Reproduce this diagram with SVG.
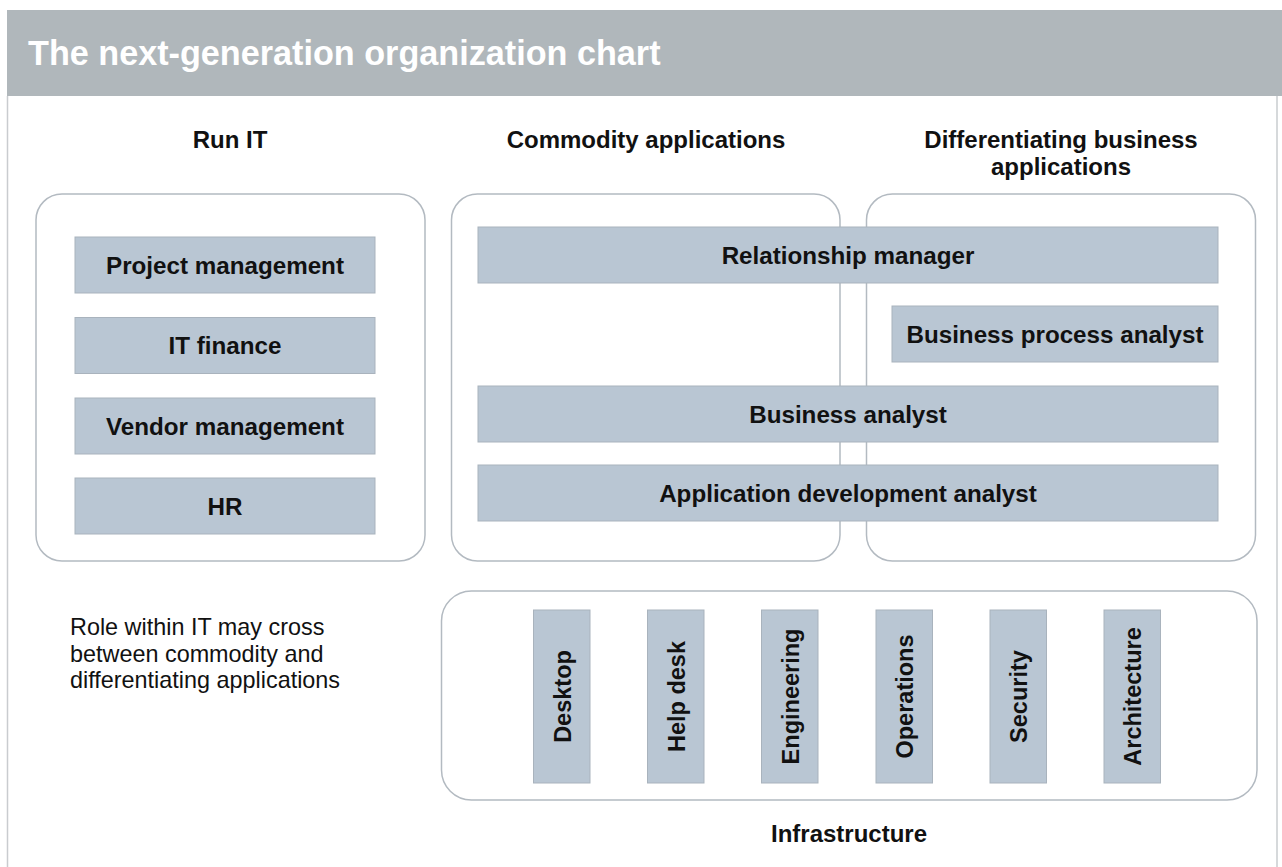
<svg xmlns="http://www.w3.org/2000/svg" width="1282" height="867" viewBox="0 0 1282 867">
  <style>
    .frame { fill: none; stroke: #c9cccf; stroke-width: 1.5; }
    .group { fill: #ffffff; stroke: #b3bac1; stroke-width: 1.5; }
    .role { fill: #b9c6d3; stroke: #a9b3bd; stroke-width: 1; }
    .title { font-family: "Liberation Sans", Arial, sans-serif; font-weight: bold; font-size: 34.2px; fill: #ffffff; }
    .head { font-family: "Liberation Sans", Arial, sans-serif; font-weight: bold; font-size: 24px; fill: #111111; text-anchor: middle; }
    .label { font-family: "Liberation Sans", Arial, sans-serif; font-weight: bold; font-size: 24.2px; fill: #111111; text-anchor: middle; }
    .vlabel { font-family: "Liberation Sans", Arial, sans-serif; font-weight: bold; font-size: 23.5px; fill: #111111; text-anchor: middle; }
    .note { font-family: "Liberation Sans", Arial, sans-serif; font-size: 23.4px; fill: #111111; }
  </style>

  <!-- page frame and title band -->
  <rect x="0" y="0" width="1282" height="867" fill="#ffffff"/>
  <line class="frame" x1="7.5" y1="96" x2="7.5" y2="867"/>
  <line class="frame" x1="1277" y1="96" x2="1277" y2="867"/>
  <rect x="7" y="10" width="1275" height="86" fill="#b0b7bb"/>
  <text class="title" x="28" y="65">The next-generation organization chart</text>

  <!-- column headings -->
  <text class="head" x="230" y="148">Run IT</text>
  <text class="head" x="646" y="148">Commodity applications</text>
  <text class="head" x="1061" y="148">Differentiating business</text>
  <text class="head" x="1061" y="175">applications</text>

  <!-- group containers -->
  <g id="run-it">
    <rect class="group" x="36" y="194" width="389" height="367" rx="26"/>
  </g>
  <g id="commodity-applications">
    <rect class="group" x="451.5" y="194" width="388.5" height="367" rx="26"/>
  </g>
  <g id="differentiating-applications">
    <rect class="group" x="866.5" y="194" width="389" height="367" rx="26"/>
  </g>
  <g id="infrastructure">
    <rect class="group" x="441.5" y="591" width="815.5" height="209" rx="30"/>
    <text class="head" x="849" y="842">Infrastructure</text>
  </g>

  <!-- Run IT roles -->
  <g id="project-management">
    <rect class="role" x="75" y="237" width="300" height="56"/>
    <text class="label" x="225" y="273.8">Project management</text>
  </g>
  <g id="it-finance">
    <rect class="role" x="75" y="317.5" width="300" height="56"/>
    <text class="label" x="225" y="354.3">IT finance</text>
  </g>
  <g id="vendor-management">
    <rect class="role" x="75" y="398" width="300" height="56"/>
    <text class="label" x="225" y="434.8">Vendor management</text>
  </g>
  <g id="hr">
    <rect class="role" x="75" y="478" width="300" height="56"/>
    <text class="label" x="225" y="514.8">HR</text>
  </g>

  <!-- application roles -->
  <g id="relationship-manager">
    <rect class="role" x="478" y="227" width="740" height="56"/>
    <text class="label" x="848" y="263.8">Relationship manager</text>
  </g>
  <g id="business-process-analyst">
    <rect class="role" x="892" y="306" width="326" height="56"/>
    <text class="label" x="1055" y="342.8">Business process analyst</text>
  </g>
  <g id="business-analyst">
    <rect class="role" x="478" y="386" width="740" height="56"/>
    <text class="label" x="848" y="422.8">Business analyst</text>
  </g>
  <g id="application-development-analyst">
    <rect class="role" x="478" y="465" width="740" height="56"/>
    <text class="label" x="848" y="501.8">Application development analyst</text>
  </g>

  <!-- infrastructure roles (vertical labels) -->
  <g id="desktop">
    <rect class="role" x="533.5" y="610" width="56.5" height="173"/>
    <text class="vlabel" transform="translate(570.5 696.5) rotate(-90)">Desktop</text>
  </g>
  <g id="help-desk">
    <rect class="role" x="647.5" y="610" width="56.5" height="173"/>
    <text class="vlabel" transform="translate(684.5 696.5) rotate(-90)">Help desk</text>
  </g>
  <g id="engineering">
    <rect class="role" x="761.5" y="610" width="56.5" height="173"/>
    <text class="vlabel" transform="translate(798.5 696.5) rotate(-90)">Engineering</text>
  </g>
  <g id="operations">
    <rect class="role" x="876" y="610" width="56.5" height="173"/>
    <text class="vlabel" transform="translate(913 696.5) rotate(-90)">Operations</text>
  </g>
  <g id="security">
    <rect class="role" x="990" y="610" width="56.5" height="173"/>
    <text class="vlabel" transform="translate(1027 696.5) rotate(-90)">Security</text>
  </g>
  <g id="architecture">
    <rect class="role" x="1104" y="610" width="56.5" height="173"/>
    <text class="vlabel" transform="translate(1141 696.5) rotate(-90)">Architecture</text>
  </g>

  <!-- side note -->
  <text class="note" x="70" y="635">Role within IT may cross</text>
  <text class="note" x="70" y="661.5">between commodity and</text>
  <text class="note" x="70" y="688">differentiating applications</text>

  <!-- no connectors in this chart -->
  <g id="connectors"/>
</svg>
